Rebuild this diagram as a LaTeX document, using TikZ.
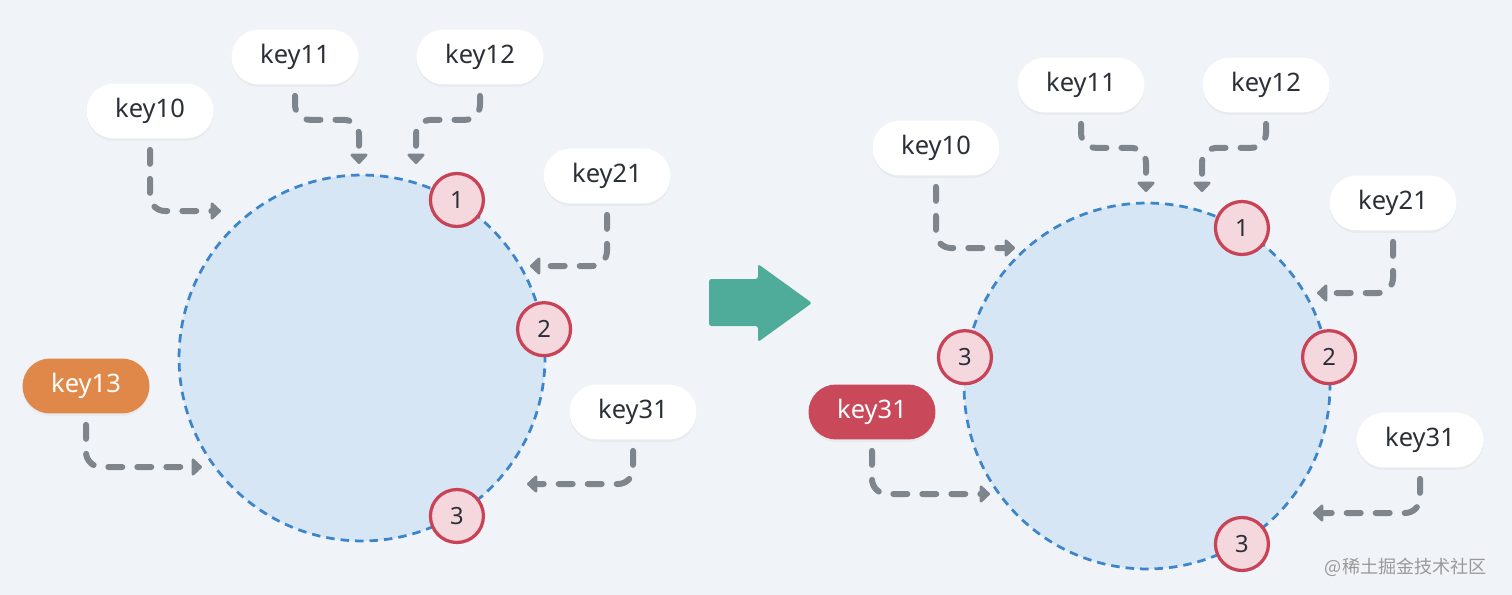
\documentclass[tikz,border=0pt]{standalone}
\usepackage{fontspec}
\setmainfont{Noto Sans}
\newfontfamily\cjk{Noto Sans CJK SC}
\usetikzlibrary{arrows.meta,shadows}
\definecolor{bg}{HTML}{F0F3F7}
\definecolor{ink}{HTML}{2B2F36}
\definecolor{ringfill}{HTML}{D6E6F5}
\definecolor{ringline}{HTML}{3C85CB}
\definecolor{badgefill}{HTML}{F4D8DD}
\definecolor{badgeline}{HTML}{C94357}
\definecolor{flowgray}{HTML}{7E858D}
\definecolor{orange}{HTML}{E0884A}
\definecolor{hotred}{HTML}{C9495A}
\definecolor{teal}{HTML}{50AC9A}
\begin{document}
\begin{tikzpicture}[x=0.02cm, y=-0.02cm, line cap=round, line join=round,
    keybox/.style={rounded corners=0.55cm, minimum width=2.54cm, minimum height=1.1cm,
      inner sep=0pt, fill=white, text=ink, font=\fontsize{14.5}{16}\selectfont,
      drop shadow={opacity=0.07, shadow xshift=0pt, shadow yshift=-0.05cm}},
    moved/.style={keybox, fill=#1, text=white},
    ring/.style={circle, minimum size=7.32cm, inner sep=0pt, fill=ringfill, draw=ringline,
      line width=0.055cm, line cap=butt, dash pattern=on 0.17cm off 0.12cm},
    badge/.style={circle, minimum size=1.06cm, inner sep=0pt, fill=badgefill, draw=badgeline,
      line width=0.065cm, text=ink, font=\fontsize{13.5}{15}\selectfont},
    flow/.style={draw=flowgray, line width=0.12cm, rounded corners=0.3cm,
      dash pattern=on 0.28cm off 0.3cm, -{Triangle[length=0.22cm, width=0.4cm, round]}}]
  \fill[bg] (0,0) rectangle (1512,595);
  \useasboundingbox (0,0) rectangle (1512,595);
  % before
  \node[ring] (ringL) at (362,358) {};
  \node[badge] (b1) at (ringL.59) {1};
  \node[badge] (b2) at (ringL.9) {2};
  \node[badge] (b3) at (ringL.-59) {3};
  \node[keybox] (k10) at (150,111) {key10};
  \node[keybox] (k11) at (295,57) {key11};
  \node[keybox] (k12) at (480,57) {key12};
  \node[keybox] (k21) at (607,176) {key21};
  \node[keybox] (k31) at (633,412) {key31};
  \node[moved=orange] (k13) at (86,386) {key13};
  \coordinate (t10) at (221,211);
  \coordinate (t11) at (359,164);
  \coordinate (t12) at (416,164);
  \coordinate (t21) at (530,266);
  \coordinate (t31) at (527,484);
  \coordinate (t13) at (202,467);
  \draw[flow] ([yshift=-0.22cm]k10.south) |- (t10);
  \draw[flow] ([yshift=-0.22cm]k11.south) -- ++(0,24) -| (t11);
  \draw[flow] ([yshift=-0.22cm]k12.south) -- ++(0,24) -| (t12);
  \draw[flow] ([yshift=-0.22cm]k21.south) |- (t21);
  \draw[flow] ([yshift=-0.22cm]k31.south) |- (t31);
  \draw[flow] ([yshift=-0.22cm]k13.south) |- (t13);
  % arrow
  \fill[teal, rounded corners=0.05cm] (709,279) -- (758,279) -- (758,264) -- (812,303)
    -- (758,342) -- (758,326) -- (709,326) -- cycle;
  % after
  \begin{scope}[shift={(785,28)}]
    \node[ring] (ringR) at (362,358) {};
    \node[badge] (r1) at (ringR.59) {1};
    \node[badge] (r2) at (ringR.9) {2};
    \node[badge] (r3) at (ringR.-59) {3};
    \node[badge] (r3n) at (ringR.171) {3};
    \node[keybox] (k10r) at (151,120) {key10};
    \node[keybox] (k11r) at (296,57) {key11};
    \node[keybox] (k12r) at (481,57) {key12};
    \node[keybox] (k21r) at (608,175) {key21};
    \node[keybox] (k31r) at (635,412) {key31};
    \node[moved=hotred] (k31h) at (87,384) {key31};
    \coordinate (t10r) at (230,220);
    \coordinate (t11r) at (361,164);
    \coordinate (t12r) at (417,164);
    \coordinate (t21r) at (532,265);
    \coordinate (t31r) at (528,485);
    \coordinate (t31h) at (205,466);
    \draw[flow] ([yshift=-0.22cm]k10r.south) |- (t10r);
    \draw[flow] ([yshift=-0.22cm]k11r.south) -- ++(0,24) -| (t11r);
    \draw[flow] ([yshift=-0.22cm]k12r.south) -- ++(0,24) -| (t12r);
    \draw[flow] ([yshift=-0.22cm]k21r.south) |- (t21r);
    \draw[flow] ([yshift=-0.22cm]k31r.south) |- (t31r);
    \draw[flow] ([yshift=-0.22cm]k31h.south) |- (t31h);
  \end{scope}
  \node[anchor=east, text=black!40, font=\fontsize{10.3}{12}\selectfont\cjk] (mark) at (1493,567) {@稀土掘金技术社区};
\end{tikzpicture}
\end{document}
